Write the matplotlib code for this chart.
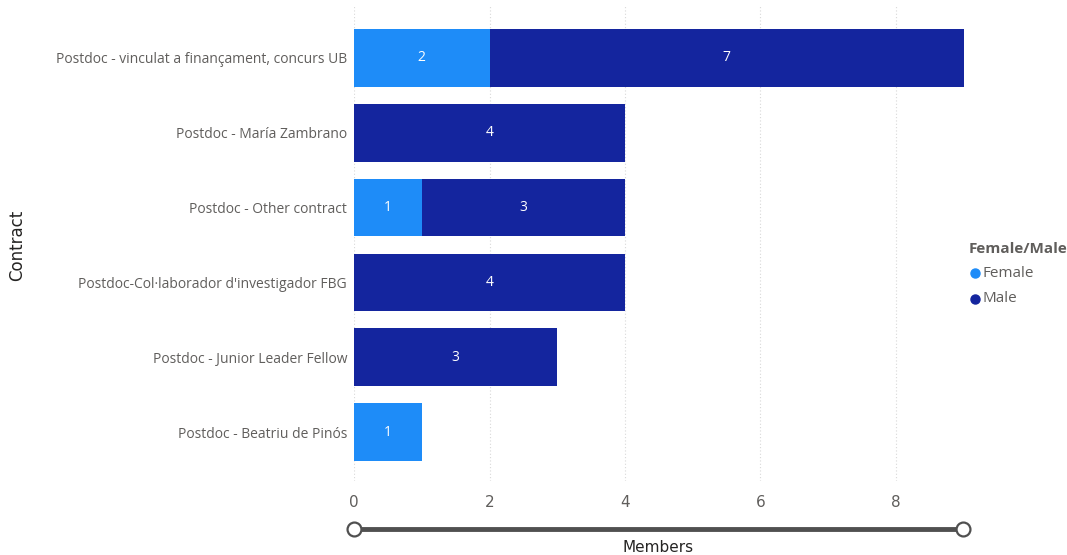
import matplotlib
matplotlib.use("Agg")
import matplotlib.pyplot as plt
from matplotlib.lines import Line2D

contracts = [
    "Postdoc - vinculat a finançament, concurs UB",
    "Postdoc - María Zambrano",
    "Postdoc - Other contract",
    "Postdoc-Col·laborador d'investigador FBG",
    "Postdoc - Junior Leader Fellow",
    "Postdoc - Beatriu de Pinós",
]
female = [2, 0, 1, 0, 0, 1]
male = [7, 4, 3, 4, 3, 0]
x_ticks = [0, 2, 4, 6, 8]

c_female = "#1E8CF8"
c_male = "#14259E"
grey = "#605E5C"

fig = plt.figure(figsize=(10.67, 5.55), dpi=100)
ax = fig.add_axes([0.3318, 0.1338, 0.5714, 0.8563])

ypos = list(range(len(contracts)))
h = 0.77
bf = ax.barh(ypos, female, height=h, color=c_female, zorder=3)
bm = ax.barh(ypos, male, left=female, height=h, color=c_male, zorder=3)

for vals, lefts in ((female, [0] * len(female)), (male, female)):
    for y, v, l in zip(ypos, vals, lefts):
        if v > 0:
            ax.text(l + v / 2, y, str(v), ha="center", va="center",
                    color="white", fontsize=10, family="Open Sans", zorder=4)

ax.set_xlim(0, 9)
ax.set_ylim(5.65, -0.7)
ax.set_yticks(ypos)
ax.set_yticklabels(contracts, fontsize=10, color=grey, family="Open Sans")
ax.set_xticks(x_ticks)
ax.set_xticklabels([str(t) for t in x_ticks], fontsize=11, color=grey, family="DejaVu Sans")
ax.tick_params(axis="both", length=0)
ax.tick_params(axis="y", pad=5)
ax.tick_params(axis="x", pad=10)
for s in ax.spines.values():
    s.set_visible(False)
ax.grid(axis="x", color="#D8D8D8", linestyle=(0, (1, 2)), linewidth=0.8, zorder=0)

# range slider under the value axis
y_sl = 1 - 529 / 555
x0 = 354 / 1067
x1 = 963 / 1067
fig.add_artist(Line2D([x0, x1], [y_sl, y_sl], transform=fig.transFigure,
                      color="#505050", linewidth=3.5))
fig.add_artist(Line2D([x0, x1], [y_sl, y_sl], transform=fig.transFigure,
                      linestyle="none", marker="o", markersize=10,
                      markerfacecolor="white", markeredgecolor="#505050",
                      markeredgewidth=1.6))

fig.text(658 / 1067, 1 - 548 / 555, "Members", ha="center", va="center",
         fontsize=11, color="#252423", family="DejaVu Sans")
fig.text(17 / 1067, 1 - 245 / 555, "Contract", ha="center", va="center",
         rotation=90, fontsize=12, color="#252423", family="DejaVu Sans")

# legend
fig.text(969 / 1067, 1 - 249 / 555, "Female/Male", ha="left", va="center",
         fontsize=11, fontweight="bold", color=grey, family="Open Sans")
for yy, lab, col in ((273, "Female", c_female), (299, "Male", c_male)):
    fig.add_artist(Line2D([975 / 1067], [1 - yy / 555], transform=fig.transFigure,
                          marker="o", markersize=6.5, color=col, linestyle="none"))
    fig.text(982 / 1067, 1 - yy / 555, lab, ha="left", va="center",
             fontsize=11, color=grey, family="Open Sans")

fig.savefig("out.png", dpi=100, facecolor="white")
